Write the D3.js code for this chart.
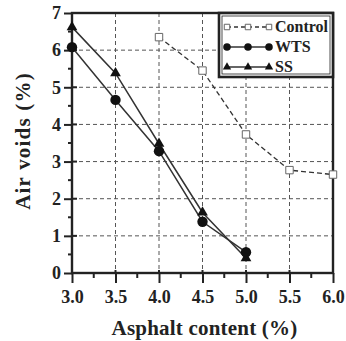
<!DOCTYPE html>
<html>
<head>
<meta charset="utf-8">
<script src="https://cdn.jsdelivr.net/npm/d3@7"></script>
<style>
  html, body { margin: 0; padding: 0; background: #fff; }
  svg text { font-family: "Liberation Serif", "DejaVu Serif", serif; font-weight: bold; fill: #222; }
</style>
</head>
<body>
<div id="chart"></div>
<script>
// values
const asphalt = [3.0, 3.5, 4.0, 4.5, 5.0, 5.5, 6.0];
const controlX = [4.0, 4.5, 5.0, 5.5, 6.0];
const controlVoids = [6.35, 5.45, 3.73, 2.77, 2.65];
const wtsX = [3.0, 3.5, 4.0, 4.5, 5.0];
const wtsVoids = [6.08, 4.66, 3.28, 1.38, 0.56];
const ssX = [3.0, 3.5, 4.0, 4.5, 5.0];
const ssVoids = [6.62, 5.38, 3.48, 1.63, 0.40];
const yTicks = [0, 1, 2, 3, 4, 5, 6, 7];
const seriesNames = ['Control', 'WTS', 'SS'];

const W = 346, H = 341;
const margin = {top: 13, right: 13, bottom: 68, left: 72};
const width = W - margin.left - margin.right;
const height = H - margin.top - margin.bottom;
const ink = '#222';

const svg = d3.select('#chart').append('svg')
  .attr('width', W).attr('height', H);
const g = svg.append('g').attr('transform', `translate(${margin.left},${margin.top})`);

const x = d3.scaleLinear().domain([3, 6]).range([0, width]);
const y = d3.scaleLinear().domain([0, 7]).range([height, 0]);

// dashed grid
g.append('g').selectAll('line').data(asphalt.slice(1, -1)).join('line')
  .attr('x1', d => x(d)).attr('x2', d => x(d)).attr('y1', 0).attr('y2', height)
  .attr('stroke', '#555').attr('stroke-width', 1).attr('stroke-dasharray', '4,3');
g.append('g').selectAll('line').data(yTicks.slice(1, -1)).join('line')
  .attr('y1', d => y(d)).attr('y2', d => y(d)).attr('x1', 0).attr('x2', width)
  .attr('stroke', '#555').attr('stroke-width', 1).attr('stroke-dasharray', '4,3');

// axes
const xAxis = g.append('g').attr('transform', `translate(0,${height})`)
  .call(d3.axisBottom(x).tickValues(asphalt).tickFormat(d3.format('.1f')).tickSize(10).tickPadding(7));
const yAxis = g.append('g')
  .call(d3.axisLeft(y).tickValues(yTicks).tickFormat(d3.format('d')).tickSize(8).tickPadding(3));
[xAxis, yAxis].forEach(a => {
  a.select('.domain').remove();
  a.selectAll('line').attr('stroke', ink).attr('stroke-width', 2);
  a.selectAll('text').style('font-size', '18px').attr('fill', ink);
});
// major ticks poke a little inside
g.append('g').selectAll('line').data(asphalt).join('line')
  .attr('x1', d => x(d)).attr('x2', d => x(d)).attr('y1', height).attr('y2', height - 3)
  .attr('stroke', ink).attr('stroke-width', 2);
g.append('g').selectAll('line').data(yTicks).join('line')
  .attr('y1', d => y(d)).attr('y2', d => y(d)).attr('x1', 0).attr('x2', 5)
  .attr('stroke', ink).attr('stroke-width', 2);
// minor ticks
g.append('g').selectAll('line').data(d3.range(3.25, 6, 0.5)).join('line')
  .attr('x1', d => x(d)).attr('x2', d => x(d)).attr('y1', height).attr('y2', height + 5)
  .attr('stroke', ink).attr('stroke-width', 2);
g.append('g').selectAll('line').data(d3.range(0.5, 7, 1)).join('line')
  .attr('y1', d => y(d)).attr('y2', d => y(d)).attr('x1', 0).attr('x2', -4)
  .attr('stroke', ink).attr('stroke-width', 2);

// frame
g.append('rect').attr('width', width).attr('height', height)
  .attr('fill', 'none').attr('stroke', ink).attr('stroke-width', 2.4);

// series
const line = d3.line().x(d => x(d[0])).y(d => y(d[1]));
const control = controlX.map((v, i) => [v, controlVoids[i]]);
const wts = wtsX.map((v, i) => [v, wtsVoids[i]]);
const ss = ssX.map((v, i) => [v, ssVoids[i]]);

g.append('path').datum(control).attr('d', line).attr('fill', 'none')
  .attr('stroke', '#333').attr('stroke-width', 1.3).attr('stroke-dasharray', '5,3');
g.append('path').datum(wts).attr('d', line).attr('fill', 'none')
  .attr('stroke', '#333').attr('stroke-width', 1.5);
g.append('path').datum(ss).attr('d', line).attr('fill', 'none')
  .attr('stroke', '#333').attr('stroke-width', 1.5);

const sq = d3.symbol(d3.symbolSquare, 55);
const ci = d3.symbol(d3.symbolCircle, 85);
const tr = d3.symbol(d3.symbolTriangle, 50);

g.append('g').selectAll('path').data(control).join('path')
  .attr('d', sq).attr('transform', d => `translate(${x(d[0])},${y(d[1])})`)
  .attr('fill', '#fff').attr('stroke', '#666').attr('stroke-width', 1);
g.append('g').selectAll('path').data(wts).join('path')
  .attr('d', ci).attr('transform', d => `translate(${x(d[0])},${y(d[1])})`)
  .attr('fill', '#111');
g.append('g').selectAll('path').data(ss).join('path')
  .attr('d', tr).attr('transform', d => `translate(${x(d[0])},${y(d[1])})`)
  .attr('fill', '#111');

// legend
const lw = 114, lh = 64;
const lg = g.append('g').attr('transform', `translate(${width - lw},0)`);
lg.append('rect').attr('width', lw).attr('height', lh).attr('fill', '#fff')
  .attr('stroke', ink).attr('stroke-width', 2.6);
lg.append('rect').attr('x', 3).attr('y', 3).attr('width', lw - 6).attr('height', lh - 6)
  .attr('fill', 'none').attr('stroke', ink).attr('stroke-width', 0.8);
const markers = [d3.symbol(d3.symbolSquare, 30), d3.symbol(d3.symbolCircle, 45), d3.symbol(d3.symbolTriangle, 30)];
const fills = ['#fff', '#111', '#111'];
seriesNames.forEach((name, i) => {
  const ly = 14 + i * 20;
  lg.append('line').attr('x1', 8).attr('x2', 50).attr('y1', ly).attr('y2', ly)
    .attr('stroke', '#333').attr('stroke-width', 1.3)
    .attr('stroke-dasharray', i === 0 ? '4,3' : null);
  [8, 29, 50].forEach(px => {
    lg.append('path').attr('d', markers[i]).attr('transform', `translate(${px},${ly})`)
      .attr('fill', fills[i]).attr('stroke', i === 0 ? '#666' : 'none');
  });
  lg.append('text').attr('x', 56).attr('y', ly + 5).text(name).style('font-size', '16px');
});

// axis titles
svg.append('text').attr('x', margin.left + width / 2 + 2).attr('y', H - 6)
  .attr('text-anchor', 'middle').style('font-size', '21px').style('letter-spacing', '0.2px')
  .text('Asphalt content (%)');
svg.append('text').attr('transform', `translate(30,${margin.top + 128}) rotate(-90)`)
  .attr('text-anchor', 'middle').style('font-size', '21px').style('letter-spacing', '1.2px')
  .text('Air voids (%)');
</script>
</body>
</html>
